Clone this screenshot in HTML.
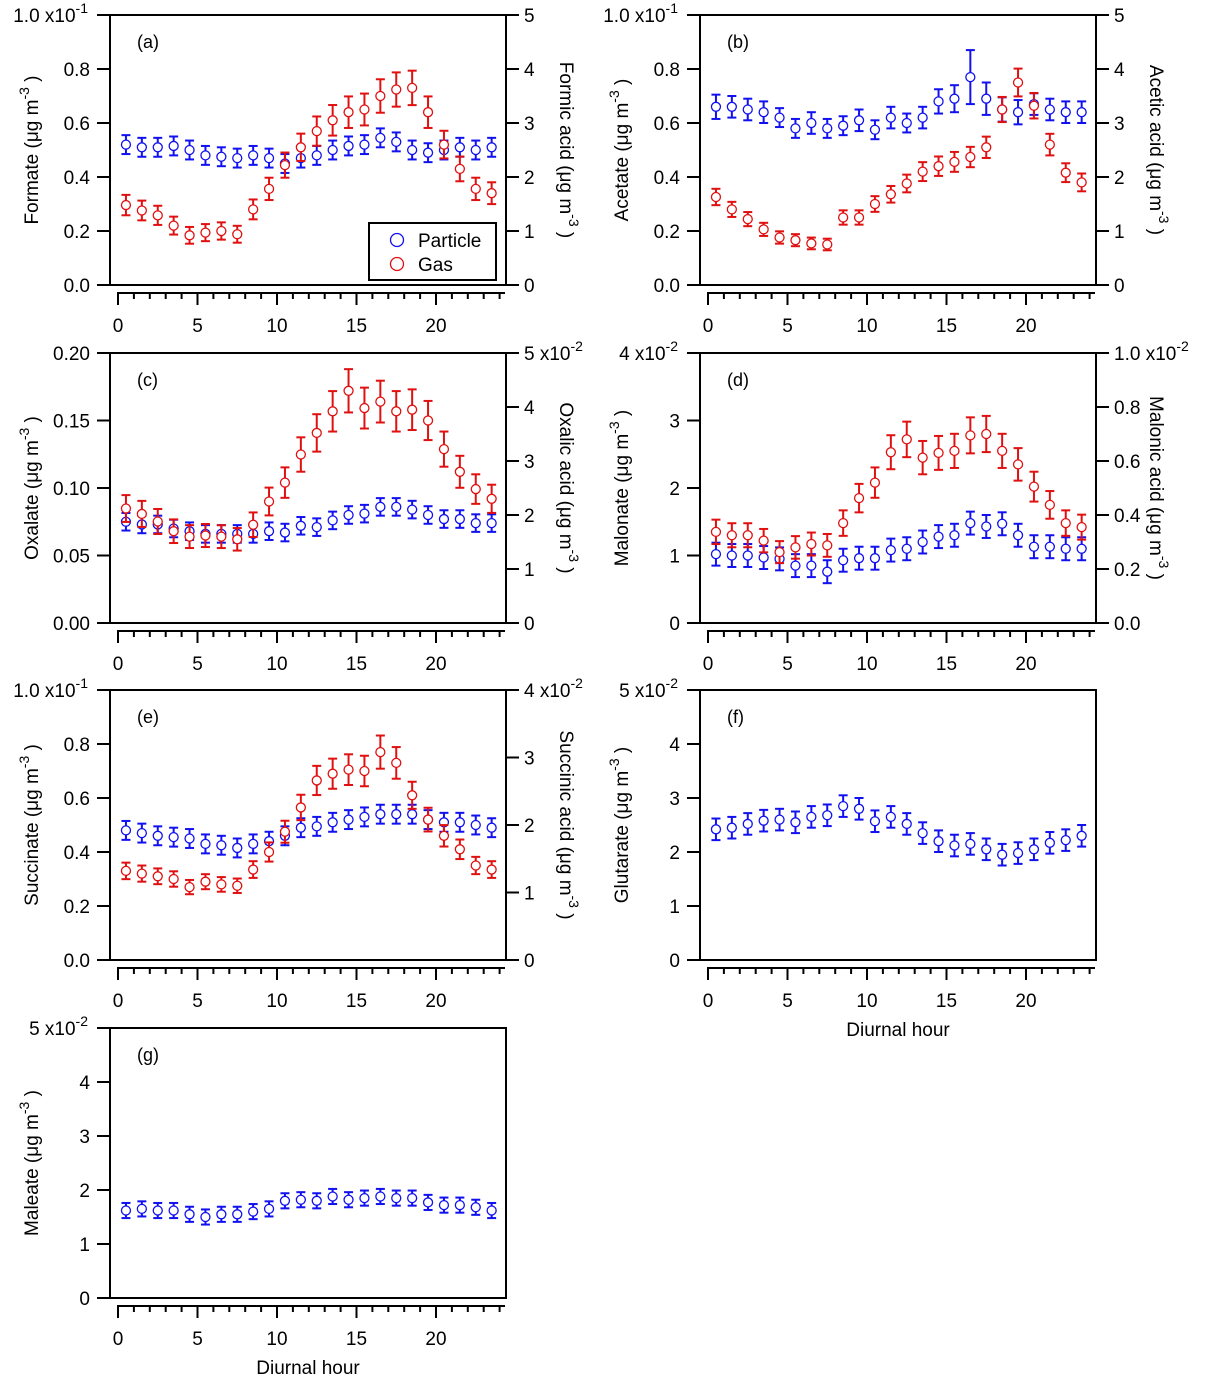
<!DOCTYPE html>
<html><head><meta charset="utf-8"><style>
body{margin:0;background:#fff}
svg{display:block;font-family:"Liberation Sans",sans-serif}
</style></head><body>
<svg id="c" width="1208" height="1375" xmlns="http://www.w3.org/2000/svg"></svg>
<script>
const hours=[0.5,1.5,2.5,3.5,4.5,5.5,6.5,7.5,8.5,9.5,10.5,11.5,12.5,13.5,14.5,15.5,16.5,17.5,18.5,19.5,20.5,21.5,22.5,23.5];
const xTicks=[0,5,10,15,20];
// (a)
const formateP=[0.52,0.51,0.51,0.515,0.50,0.48,0.475,0.47,0.48,0.47,0.45,0.47,0.48,0.50,0.515,0.52,0.545,0.53,0.50,0.49,0.50,0.51,0.50,0.51];
const formicG=[1.48,1.38,1.29,1.1,0.92,0.97,1.0,0.94,1.4,1.78,2.22,2.55,2.85,3.05,3.2,3.25,3.5,3.62,3.65,3.2,2.6,2.15,1.78,1.7];
// (b)
const acetateP=[0.66,0.66,0.65,0.64,0.62,0.58,0.60,0.58,0.59,0.61,0.575,0.62,0.60,0.62,0.68,0.69,0.77,0.69,0.65,0.64,0.67,0.65,0.64,0.64];
const acetateErr=[0.045,0.04,0.04,0.04,0.035,0.035,0.04,0.035,0.035,0.04,0.035,0.04,0.035,0.04,0.045,0.05,0.1,0.06,0.045,0.045,0.04,0.04,0.04,0.04];
const aceticG=[1.63,1.4,1.22,1.03,0.88,0.83,0.77,0.75,1.25,1.25,1.5,1.68,1.88,2.1,2.2,2.28,2.37,2.55,3.25,3.75,3.32,2.6,2.08,1.9];
// (c)
const oxalateP=[0.075,0.073,0.073,0.070,0.068,0.066,0.066,0.066,0.066,0.068,0.067,0.072,0.071,0.076,0.080,0.081,0.086,0.086,0.084,0.080,0.077,0.077,0.074,0.074];
const oxalicG=[2.12,2.02,1.88,1.7,1.6,1.62,1.6,1.55,1.82,2.25,2.6,3.12,3.52,3.92,4.3,3.98,4.1,3.92,3.95,3.75,3.22,2.8,2.48,2.3];
// (d)
const malonateP=[1.02,1.0,1.0,0.97,0.95,0.85,0.85,0.76,0.93,0.96,0.96,1.08,1.1,1.2,1.28,1.3,1.48,1.43,1.47,1.3,1.13,1.13,1.1,1.1];
const malonicG=[0.3375,0.325,0.325,0.305,0.2625,0.28,0.2925,0.2875,0.37,0.4625,0.52,0.6325,0.68,0.6125,0.63,0.6375,0.695,0.70,0.6375,0.5875,0.505,0.4375,0.37,0.355];
// (e)
const succinateP=[0.48,0.47,0.46,0.455,0.45,0.43,0.425,0.415,0.43,0.44,0.46,0.49,0.495,0.51,0.52,0.53,0.54,0.54,0.54,0.52,0.51,0.51,0.50,0.49];
const succinicG=[1.32,1.28,1.24,1.2,1.08,1.16,1.12,1.1,1.34,1.6,1.9,2.26,2.66,2.76,2.82,2.8,3.08,2.92,2.44,2.08,1.84,1.64,1.4,1.34];
// (f)
const glutarateP=[2.42,2.45,2.52,2.58,2.6,2.55,2.65,2.68,2.85,2.8,2.57,2.65,2.52,2.35,2.2,2.12,2.15,2.05,1.95,1.98,2.05,2.17,2.22,2.3];
// (g)
const maleateP=[1.62,1.65,1.62,1.62,1.55,1.5,1.55,1.55,1.6,1.65,1.8,1.82,1.8,1.88,1.82,1.85,1.88,1.85,1.85,1.77,1.72,1.72,1.68,1.62];

const BLUE="#1010f0",RED="#e01010",NS="http://www.w3.org/2000/svg";
const FS=19;
const svg=document.getElementById('c');
function el(tag,attrs,parent,txt){const e=document.createElementNS(NS,tag);for(const k in attrs)e.setAttribute(k,attrs[k]);if(txt!==undefined)e.textContent=txt;(parent||svg).appendChild(e);return e;}
function supText(parent,x,y,anchor,main,sup,rot){
  const t=el('text',{x:x,y:y,'text-anchor':anchor,'font-size':FS,fill:'#000'},parent);
  if(rot)t.setAttribute('transform',rot);
  el('tspan',{},t,main);
  if(sup){el('tspan',{dy:-9,'font-size':14},t,sup);}
  return t;
}
function panel(p){
  const W=396,H=270,ox=p.ox,oy=p.oy;
  const g=el('g',{});
  
  
  const xs=h=>ox+8+15.9*h;
  const yl=v=>oy+H-v/p.lmax*H;
  const yr=v=>oy+H-v/p.rmax*H;
  const box=el('rect',{x:ox,y:oy,width:W,height:H,fill:'none',stroke:'#000','stroke-width':2},g);
  
  
  const xa=el('g',{},g);
  
  
  el('line',{x1:xs(0)-1,x2:ox+W-1,y1:oy+H+8,y2:oy+H+8,stroke:'#000','stroke-width':2},xa);
  for(let h=0;h<=24;h++){const mj=h%5===0;el('line',{x1:xs(h),x2:xs(h),y1:oy+H+8,y2:oy+H+(mj?20:14),stroke:'#000','stroke-width':2},xa);}
  xTicks.forEach(t=>{el('text',{x:xs(t),y:oy+H+47,'text-anchor':'middle','font-size':FS},xa,String(t));});
  if(p.xtitle){const xt=el('text',{x:ox+W/2,y:oy+H+76,'text-anchor':'middle','font-size':FS},xa,'Diurnal hour');
    }
  const la=el('g',{},g);
  
  
  p.lticks.forEach((t,i)=>{const y=yl(t);el('line',{x1:ox-13,x2:ox,y1:y,y2:y,stroke:'#000','stroke-width':2},la);
    const lab=p.llabels[i];
    if(Array.isArray(lab))supText(la,ox-22,y+7,'end',lab[0],lab[1]);else el('text',{x:ox-20,y:y+7,'text-anchor':'end','font-size':FS},la,lab);});
  const lt=supText(la,0,0,'middle',p.ltitle,'-3',`translate(${ox-72},${oy+H/2}) rotate(-90)`);
  el('tspan',{dy:9,'font-size':FS},lt,' )');
  
  if(p.rticks){
    const ra=el('g',{},g);
    
    
    p.rticks.forEach((t,i)=>{const y=yr(t);el('line',{x1:ox+W,x2:ox+W+13,y1:y,y2:y,stroke:'#000','stroke-width':2},ra);
      const lab=p.rlabels[i];
      if(Array.isArray(lab))supText(ra,ox+W+18,y+7,'start',lab[0],lab[1]);else el('text',{x:ox+W+18,y:y+7,'text-anchor':'start','font-size':FS},ra,lab);});
    const rt=supText(ra,0,0,'middle',p.rtitle,'-3',`translate(${ox+W+54},${oy+H/2}) rotate(90)`);
    el('tspan',{dy:9,'font-size':FS},rt,' )');
    
  }
  const pl=el('text',{x:ox+27,y:oy+33,'font-size':18},g,'('+p.id+')');
  
  function series(vals,errs,yf,color,name){
    const sg=el('g',{},g);
    
    
    vals.forEach((v,i)=>{const x=xs(hours[i]),e=errs[i];const y1=yf(v-e),y2=yf(v+e),y=yf(v);
      el('line',{x1:x,x2:x,y1:y1,y2:y2,stroke:color,'stroke-width':2},sg);
      el('line',{x1:x-4.5,x2:x+4.5,y1:y1,y2:y1,stroke:color,'stroke-width':2},sg);
      el('line',{x1:x-4.5,x2:x+4.5,y1:y2,y2:y2,stroke:color,'stroke-width':2},sg);
      const c=el('circle',{cx:x,cy:y,r:4.5,fill:'#fff',stroke:color,'stroke-width':1.3},sg);
      
      
    });
  }
  const perr=Array.isArray(p.perr)?p.perr:p.pv.map(()=>p.perr);
  series(p.pv,perr,yl,BLUE,'particle-series');
  if(p.gv)series(p.gv,p.gv.map(v=>p.gerr(v)),yr,RED,'gas-series');
  if(p.legend){
    const lg=el('g',{},g);
    
    
    el('rect',{x:369,y:223,width:127,height:57,fill:'#fff',stroke:'#000','stroke-width':2},lg);
    el('circle',{cx:397,cy:240,r:6.5,fill:'none',stroke:BLUE,'stroke-width':1.3},lg);
    el('text',{x:418,y:247,'font-size':FS},lg,'Particle');
    el('circle',{cx:397,cy:264,r:6.5,fill:'none',stroke:RED,'stroke-width':1.3},lg);
    el('text',{x:418,y:271,'font-size':FS},lg,'Gas');
  }
}
const t01=[0,0.2,0.4,0.6,0.8,1.0];
const l01=['0.0','0.2','0.4','0.6','0.8',['1.0 x10','-1']];
panel({id:'a',ox:110,oy:15,lmax:1,lticks:t01,llabels:l01,rmax:5,rticks:[0,1,2,3,4,5],rlabels:['0','1','2','3','4','5'],
  ltitle:'Formate (μg m',rtitle:'Formic acid (μg m',pv:formateP,perr:0.035,gv:formicG,gerr:v=>0.1+v*0.06,legend:true});
panel({id:'b',ox:700,oy:15,lmax:1,lticks:t01,llabels:l01,rmax:5,rticks:[0,1,2,3,4,5],rlabels:['0','1','2','3','4','5'],
  ltitle:'Acetate (μg m',rtitle:'Acetic acid (μg m',pv:acetateP,perr:acetateErr,gv:aceticG,gerr:v=>0.07+v*0.05});
panel({id:'c',ox:110,oy:353,lmax:0.2,lticks:[0,0.05,0.1,0.15,0.2],llabels:['0.00','0.05','0.10','0.15','0.20'],rmax:5,rticks:[0,1,2,3,4,5],rlabels:['0','1','2','3','4',['5 x10','-2']],
  ltitle:'Oxalate (μg m',rtitle:'Oxalic acid (μg m',pv:oxalateP,perr:0.0065,gv:oxalicG,gerr:v=>0.1+v*0.07});
panel({id:'d',ox:700,oy:353,lmax:4,lticks:[0,1,2,3,4],llabels:['0','1','2','3',['4 x10','-2']],rmax:1,rticks:[0,0.2,0.4,0.6,0.8,1.0],rlabels:['0.0','0.2','0.4','0.6','0.8',['1.0 x10','-2']],
  ltitle:'Malonate (μg m',rtitle:'Malonic acid (μg m',pv:malonateP,perr:0.17,gv:malonicG,gerr:v=>0.025+v*0.06});
panel({id:'e',ox:110,oy:690,lmax:1,lticks:t01,llabels:l01,rmax:4,rticks:[0,1,2,3,4],rlabels:['0','1','2','3',['4 x10','-2']],
  ltitle:'Succinate (μg m',rtitle:'Succinic acid (μg m',pv:succinateP,perr:0.035,gv:succinicG,gerr:v=>0.03+v*0.07});
panel({id:'f',ox:700,oy:690,lmax:5,lticks:[0,1,2,3,4,5],llabels:['0','1','2','3','4',['5 x10','-2']],
  ltitle:'Glutarate (μg m',pv:glutarateP,perr:0.2,xtitle:true});
panel({id:'g',ox:110,oy:1028,lmax:5,lticks:[0,1,2,3,4,5],llabels:['0','1','2','3','4',['5 x10','-2']],
  ltitle:'Maleate (μg m',pv:maleateP,perr:0.14,xtitle:true});
</script>
</body></html>
